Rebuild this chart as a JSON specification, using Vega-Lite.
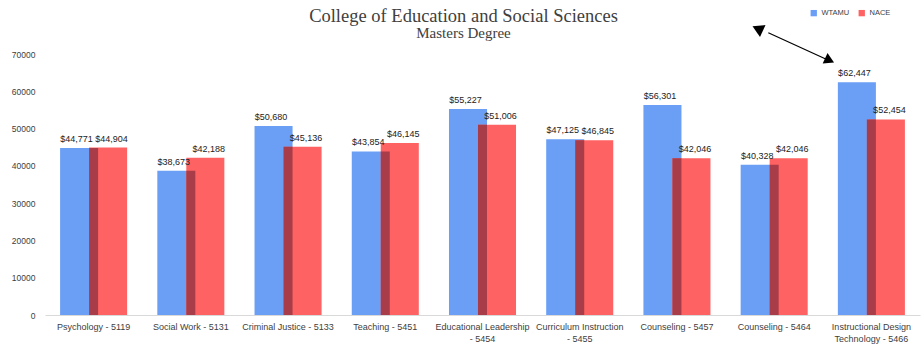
{
  "$schema": "https://vega.github.io/schema/vega-lite/v6.json",
  "width": 875,
  "height": 261,
  "autosize": "none",
  "padding": {"left": 45, "top": 54, "right": 3, "bottom": 38},
  "background": "white",
  "title": {
    "text": "College of Education and Social Sciences",
    "subtitle": "Masters Degree",
    "font": "Liberation Serif",
    "fontSize": 18.5,
    "fontWeight": "normal",
    "color": "#404040",
    "subtitleFont": "Liberation Serif",
    "subtitleFontSize": 15,
    "subtitleColor": "#404040",
    "anchor": "middle",
    "dx": -19,
    "offset": -32,
    "subtitlePadding": 1
  },
  "datasets": {
    "bars": [
      {"category": "Psychology - 5119", "series": "WTAMU", "value": 44771},
      {"category": "Social Work - 5131", "series": "WTAMU", "value": 38673},
      {"category": "Criminal Justice - 5133", "series": "WTAMU", "value": 50680},
      {"category": "Teaching - 5451", "series": "WTAMU", "value": 43854},
      {"category": "Educational Leadership|- 5454", "series": "WTAMU", "value": 55227},
      {"category": "Curriculum Instruction|- 5455", "series": "WTAMU", "value": 47125},
      {"category": "Counseling - 5457", "series": "WTAMU", "value": 56301},
      {"category": "Counseling - 5464", "series": "WTAMU", "value": 40328},
      {"category": "Instructional Design|Technology - 5466", "series": "WTAMU", "value": 62447},
      {"category": "Psychology - 5119", "series": "NACE", "value": 44904},
      {"category": "Social Work - 5131", "series": "NACE", "value": 42188},
      {"category": "Criminal Justice - 5133", "series": "NACE", "value": 45136},
      {"category": "Teaching - 5451", "series": "NACE", "value": 46145},
      {"category": "Educational Leadership|- 5454", "series": "NACE", "value": 51006},
      {"category": "Curriculum Instruction|- 5455", "series": "NACE", "value": 46845},
      {"category": "Counseling - 5457", "series": "NACE", "value": 42046},
      {"category": "Counseling - 5464", "series": "NACE", "value": 42046},
      {"category": "Instructional Design|Technology - 5466", "series": "NACE", "value": 52454}
    ],
    "arrow": [
      {"x": 7.44, "y": 75700, "x2": 8.03, "y2": 68660}
    ],
    "tips": [
      {"kind": "head", "x": 8.07, "y": 68300},
      {"kind": "tail", "x": 7.33, "y": 76800}
    ]
  },
  "layer": [
    {
      "data": {"name": "bars"},
      "encoding": {
        "x": {
          "field": "category",
          "type": "nominal",
          "sort": null,
          "scale": {"paddingInner": 0.31, "paddingOuter": 0.155},
          "axis": {
            "title": null,
            "domain": true,
            "domainColor": "#d9d9d9",
            "ticks": false,
            "labelAngle": 0,
            "labelPadding": 7,
            "labelFont": "Liberation Sans",
            "labelFontSize": 9,
            "labelColor": "#404040",
            "labelLimit": 0,
            "labelLineHeight": 12,
            "labelExpr": "split(datum.value, '|')"
          }
        },
        "y": {
          "field": "value",
          "type": "quantitative",
          "scale": {"domain": [0, 70000], "nice": false},
          "axis": {
            "title": null,
            "domain": false,
            "ticks": false,
            "grid": false,
            "labelPadding": 10,
            "labelFont": "Liberation Sans",
            "labelFontSize": 8.5,
            "labelColor": "#404040",
            "values": [0, 10000, 20000, 30000, 40000, 50000, 60000, 70000],
            "format": "d"
          }
        }
      },
      "layer": [
        {
          "transform": [{"filter": "datum.series == 'WTAMU'"}],
          "mark": {"type": "bar", "width": {"band": 0.567}, "xOffset": -14.5},
          "encoding": {
            "color": {
              "field": "series",
              "type": "nominal",
              "scale": {"domain": ["WTAMU", "NACE"], "range": ["#6a9ff5", "#ff6262"]},
              "legend": {
                "orient": "none",
                "legendX": 765,
                "legendY": -45,
                "direction": "horizontal",
                "title": null,
                "symbolType": "square",
                "symbolSize": 40,
                "symbolStrokeWidth": 0,
                "labelFont": "Liberation Sans",
                "labelFontSize": 7.5,
                "labelColor": "#404040",
                "columnPadding": 8
              }
            }
          }
        },
        {
          "transform": [{"filter": "datum.series == 'NACE'"}],
          "mark": {"type": "bar", "width": {"band": 0.567}, "xOffset": 14.5},
          "encoding": {
            "color": {"field": "series", "type": "nominal"}
          }
        },
        {
          "mark": {"type": "bar", "width": {"band": 0.134}, "color": "#a83c48"},
          "encoding": {
            "y": {"aggregate": "min", "field": "value", "type": "quantitative"}
          }
        },
        {
          "transform": [{"filter": "datum.series == 'WTAMU'"}],
          "mark": {"type": "text", "xOffset": -17, "baseline": "bottom", "dy": -4, "font": "Liberation Sans", "fontSize": 9, "color": "#222222"},
          "encoding": {
            "text": {"field": "value", "type": "quantitative", "format": "$,"}
          }
        },
        {
          "transform": [{"filter": "datum.series == 'NACE'"}],
          "mark": {"type": "text", "xOffset": 18, "baseline": "bottom", "dy": -4, "font": "Liberation Sans", "fontSize": 9, "color": "#222222"},
          "encoding": {
            "text": {"field": "value", "type": "quantitative", "format": "$,"}
          }
        }
      ]
    },
    {
      "layer": [
        {
          "data": {"name": "arrow"},
          "mark": {"type": "rule", "color": "black", "strokeWidth": 1.2},
          "encoding": {
            "x": {"field": "x", "type": "quantitative", "scale": {"domain": [0, 9], "nice": false, "zero": false}, "axis": null},
            "x2": {"field": "x2"},
            "y": {"field": "y", "type": "quantitative", "scale": {"domain": [0, 70000], "nice": false}, "axis": null},
            "y2": {"field": "y2"}
          }
        },
        {
          "data": {"name": "tips"},
          "transform": [{"filter": "datum.kind == 'head'"}],
          "mark": {"type": "point", "shape": "triangle-right", "filled": true, "color": "black", "size": 130, "angle": 25, "opacity": 1},
          "encoding": {
            "x": {"field": "x", "type": "quantitative", "scale": {"domain": [0, 9], "nice": false, "zero": false}, "axis": null},
            "y": {"field": "y", "type": "quantitative", "scale": {"domain": [0, 70000], "nice": false}, "axis": null}
          }
        },
        {
          "data": {"name": "tips"},
          "transform": [{"filter": "datum.kind == 'tail'"}],
          "mark": {"type": "point", "shape": "triangle-left", "filled": true, "color": "black", "size": 170, "angle": 25, "opacity": 1},
          "encoding": {
            "x": {"field": "x", "type": "quantitative", "scale": {"domain": [0, 9], "nice": false, "zero": false}, "axis": null},
            "y": {"field": "y", "type": "quantitative", "scale": {"domain": [0, 70000], "nice": false}, "axis": null}
          }
        }
      ]
    }
  ],
  "resolve": {"scale": {"x": "independent", "y": "independent", "color": "independent"}},
  "config": {"view": {"stroke": null}}
}
